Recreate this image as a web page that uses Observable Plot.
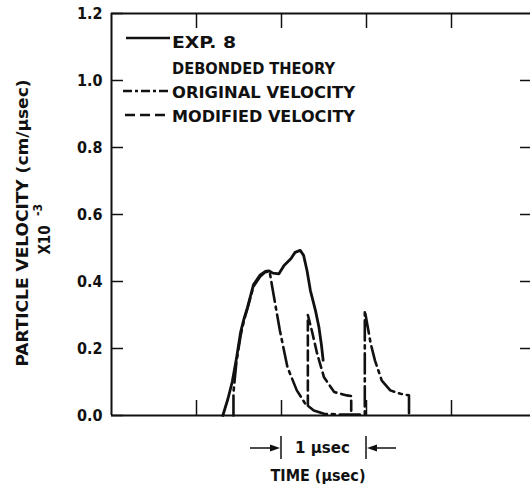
<!DOCTYPE html>
<html><head><meta charset="utf-8">
<script src="https://cdn.jsdelivr.net/npm/d3@7"></script>
<script src="https://cdn.jsdelivr.net/npm/@observablehq/plot@0.6"></script>
<style>
body{margin:0;background:#fff;}
#chart{position:relative;width:530px;height:495px;}
</style></head><body><div id="chart"></div>
<script>
// EXP. 8 (measured)
const expTime = [1.31, 1.37, 1.42, 1.47, 1.52, 1.56, 1.60, 1.67, 1.75, 1.81, 1.85, 1.90, 1.97, 2.03, 2.11, 2.16, 2.22, 2.26, 2.30, 2.34, 2.40, 2.44, 2.47, 2.49];
const expVel  = [0, 0.05, 0.10, 0.17, 0.25, 0.29, 0.323, 0.39, 0.42, 0.43, 0.432, 0.425, 0.423, 0.448, 0.468, 0.487, 0.493, 0.478, 0.433, 0.373, 0.313, 0.264, 0.21, 0.165];
// Debonded theory, original velocity
const origTime = [1.435, 1.435, 1.47, 1.52, 1.56, 1.60, 1.67, 1.75, 1.81, 1.86, 1.89, 1.98, 2.07, 2.18, 2.28, 2.38, 2.50, 2.70, 2.98, 2.98, 3.05, 3.10, 3.18, 3.28, 3.40, 3.50, 3.50];
const origVel  = [0, 0.07, 0.16, 0.24, 0.285, 0.32, 0.385, 0.415, 0.428, 0.43, 0.385, 0.255, 0.144, 0.075, 0.035, 0.015, 0.005, 0.003, 0.003, 0.313, 0.214, 0.164, 0.104, 0.075, 0.065, 0.06, 0];
// Debonded theory, modified velocity (branches off the original curve)
const modTime = [2.31, 2.31, 2.36, 2.42, 2.50, 2.62, 2.77, 2.82, 2.82];
const modVel  = [0.03, 0.30, 0.25, 0.184, 0.114, 0.07, 0.06, 0.058, 0];

const yTicks = [0, 0.2, 0.4, 0.6, 0.8, 1.0, 1.2];
const xTicks = [1, 2, 3, 4];
const scaleBarFrom = 2, scaleBarTo = 3;
const legendLabels = ["EXP. 8", "DEBONDED THEORY", "ORIGINAL VELOCITY", "MODIFIED VELOCITY"];
const yLabel = "PARTICLE VELOCITY (cm/\u00b5sec)";
const yFactor = "X10", yFactorExp = "-3";
const xLabel = "TIME (\u00b5sec)";
const scaleBarLabel = "1 \u00b5sec";

const W = 530, H = 495, mL = 111, mR = 0, mT = 13, mB = 80;
const pw = W - mL - mR, ph = H - mT - mB;
const font = "'DejaVu Sans Condensed','Liberation Sans Narrow','DejaVu Sans',sans-serif";
const ink = "#111";

const exp = expTime.map((t, i) => ({t, v: expVel[i]}));
const orig = origTime.map((t, i) => ({t, v: origVel[i]}));
const mod = modTime.map((t, i) => ({t, v: modVel[i]}));

const plot = Plot.plot({
  width: W, height: H,
  marginLeft: mL, marginRight: mR, marginTop: mT, marginBottom: mB,
  style: {fontFamily: font, fontSize: "16px", fontWeight: "bold", color: ink, background: "#fff", overflow: "visible"},
  x: {domain: [0, pw / 85], axis: null},
  y: {domain: [0, 1.2]},
  marks: [
    Plot.axisY(yTicks, {tickSize: 0, tickPadding: 9, tickFormat: d => d.toFixed(1), fontSize: 16, label: null}),
    Plot.ruleX([0], {stroke: ink, strokeWidth: 2}),
    Plot.ruleY([0, 1.2], {stroke: ink, strokeWidth: 2}),
    Plot.tickY(yTicks, {y: d => d, insetRight: pw - 12, stroke: ink, strokeWidth: 1.5}),
    Plot.tickY(yTicks.slice(1, -1), {y: d => d, insetLeft: pw - 10, stroke: ink, strokeWidth: 1.5}),
    Plot.tickX(xTicks, {x: d => d, insetBottom: ph - 15, stroke: ink, strokeWidth: 1.5}),
    Plot.tickX(xTicks, {x: d => d, insetTop: ph - 15, stroke: ink, strokeWidth: 1.5}),
    Plot.line(exp, {x: "t", y: "v", stroke: ink, strokeWidth: 2.8}),
    Plot.line(orig, {x: "t", y: "v", stroke: ink, strokeWidth: 2.6, strokeDasharray: "20,5,3,5"}),
    Plot.line(mod, {x: "t", y: "v", stroke: ink, strokeWidth: 2.6, strokeDasharray: "10,5"}),
    Plot.text([xLabel], {frameAnchor: "bottom", dx: -3, dy: 65, fontSize: 16, fill: ink})
  ]
});
document.getElementById("chart").appendChild(plot);

const svg = d3.select(plot);
const txt = (g) => g.attr("font-family", font).attr("font-weight", "bold").attr("fill", ink);

// y-axis title
svg.append("text").call(txt).attr("font-size", 16).attr("text-anchor", "middle")
  .attr("transform", "translate(28,223) rotate(-90)")
  .attr("textLength", 287).attr("lengthAdjust", "spacingAndGlyphs").text(yLabel);
svg.append("text").call(txt).attr("font-size", 15).attr("text-anchor", "middle")
  .attr("transform", "translate(50,240) rotate(-90)").text(yFactor);
svg.append("text").call(txt).attr("font-size", 12).attr("text-anchor", "middle")
  .attr("transform", "translate(42,210) rotate(-90)").text(yFactorExp);

// legend
const rows = [
  {ty: 42, ly: 38, dash: null, label: legendLabels[0], x1: 126, len: 64},
  {ty: 68, label: legendLabels[1], len: 163},
  {ty: 92, ly: 91, dash: "9,3,3,3", label: legendLabels[2], x1: 123, len: 183},
  {ty: 116, ly: 115, dash: "10,5", label: legendLabels[3], x1: 125, len: 183}
];
rows.forEach(r => {
  if (r.ly !== undefined) {
    svg.append("line").attr("x1", r.x1).attr("x2", 170).attr("y1", r.ly).attr("y2", r.ly)
      .attr("stroke", ink).attr("stroke-width", 2.6).attr("stroke-dasharray", r.dash);
  }
  svg.append("text").call(txt).attr("font-size", 16).attr("text-anchor", "start")
    .attr("x", 172).attr("y", r.ty).attr("dy", "0.36em")
    .attr("textLength", r.len).attr("lengthAdjust", "spacingAndGlyphs").text(r.label);
});

// 1 µsec scale bar, placed with the x scale
const xs = plot.scale("x");
const a = xs.apply(scaleBarFrom), b = xs.apply(scaleBarTo), yb = 448;
const sb = svg.append("g").attr("stroke", ink).attr("fill", ink);
sb.append("line").attr("x1", a).attr("x2", a).attr("y1", yb - 12).attr("y2", yb + 11).attr("stroke-width", 1.5);
sb.append("line").attr("x1", b).attr("x2", b).attr("y1", yb - 12).attr("y2", yb + 11).attr("stroke-width", 1.5);
sb.append("line").attr("x1", a - 31).attr("x2", a - 6).attr("y1", yb).attr("y2", yb).attr("stroke-width", 1.5);
sb.append("line").attr("x1", b + 6).attr("x2", b + 30).attr("y1", yb).attr("y2", yb).attr("stroke-width", 1.5);
sb.append("path").attr("d", `M${a - 1},${yb} L${a - 11},${yb - 3.5} L${a - 11},${yb + 3.5} Z`).attr("stroke", "none");
sb.append("path").attr("d", `M${b + 1},${yb} L${b + 11},${yb - 3.5} L${b + 11},${yb + 3.5} Z`).attr("stroke", "none");
svg.append("text").call(txt).attr("font-size", 16).attr("text-anchor", "middle")
  .attr("x", (a + b) / 2 - 1).attr("y", yb).attr("dy", "0.32em")
  .attr("textLength", 55).attr("lengthAdjust", "spacingAndGlyphs").text(scaleBarLabel);
</script></body></html>
